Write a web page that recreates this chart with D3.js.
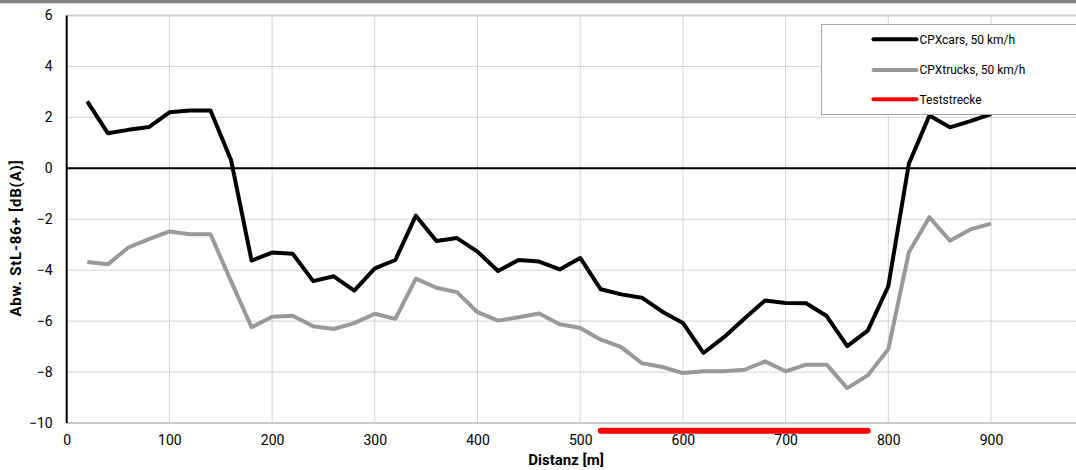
<!DOCTYPE html>
<html>
<head>
<meta charset="utf-8">
<script src="https://cdn.jsdelivr.net/npm/d3@7"></script>
<style>
  html, body { margin: 0; padding: 0; background: #fff; }
  svg { display: block; font-family: Roboto, "Liberation Sans", Arial, sans-serif; }
</style>
</head>
<body>
<svg id="chart" width="1076" height="470"></svg>
<script>
// Distance along the measured road section [m]
const distances = [20, 40, 60, 80, 100, 120, 140, 160, 180, 200, 220, 240, 260, 280, 300,
  320, 340, 360, 380, 400, 420, 440, 460, 480, 500, 520, 540, 560, 580, 600,
  620, 640, 660, 680, 700, 720, 740, 760, 780, 800, 820, 840, 860, 880, 900];

// Deviation from StL-86+ [dB(A)], passenger cars at 50 km/h
const cpxCars = [2.63, 1.38, 1.51, 1.62, 2.20, 2.27, 2.27, 0.33, -3.62, -3.31, -3.35, -4.43, -4.24, -4.80, -3.93,
  -3.60, -1.86, -2.85, -2.74, -3.27, -4.03, -3.60, -3.66, -3.97, -3.52, -4.75, -4.95, -5.08, -5.63, -6.07,
  -7.25, -6.63, -5.90, -5.19, -5.29, -5.30, -5.80, -6.98, -6.37, -4.63, 0.18, 2.07, 1.61, 1.85, 2.13];

// Deviation from StL-86+ [dB(A)], trucks at 50 km/h
const cpxTrucks = [-3.68, -3.77, -3.11, -2.78, -2.48, -2.59, -2.59, -4.43, -6.24, -5.83, -5.79, -6.20, -6.31, -6.08, -5.71,
  -5.91, -4.33, -4.69, -4.86, -5.65, -5.98, -5.85, -5.70, -6.12, -6.27, -6.73, -7.02, -7.65, -7.80, -8.04,
  -7.97, -7.97, -7.91, -7.58, -7.97, -7.71, -7.71, -8.63, -8.13, -7.10, -3.30, -1.92, -2.84, -2.40, -2.17];

// Test section, drawn as a marker just below the x axis
const testSection = [520, 780];
const testSectionLevel = -10.3;

const xTicks = [0, 100, 200, 300, 400, 500, 600, 700, 800, 900];
const yTicks = [-10, -8, -6, -4, -2, 0, 2, 4, 6];

const seriesNames = ["CPXcars, 50 km/h", "CPXtrucks, 50 km/h", "Teststrecke"];
const seriesColors = ["#000000", "#999999", "#ff0000"];

const svg = d3.select("#chart");
const W = 1076, H = 470;

const x = d3.scaleLinear().domain([0, 1000]).range([66.7, 66.7 + 1027]);
const y = d3.scaleLinear().domain([-10, 6]).range([423, 15.5]);

// dark strip along the top edge
svg.append("rect").attr("x", 0).attr("y", 0).attr("width", W).attr("height", 3.3).attr("fill", "#808080");

// gridlines
const grid = svg.append("g");
grid.selectAll("line.h").data(yTicks.filter(d => d !== 6 && d !== -10 && d !== 0)).join("line")
  .attr("x1", x(0)).attr("x2", W)
  .attr("y1", d => y(d)).attr("y2", d => y(d))
  .attr("stroke", "#a8a8a8").attr("stroke-width", 1).attr("stroke-dasharray", "1,1");
grid.selectAll("line.v").data(xTicks.filter(d => d > 0)).join("line")
  .attr("x1", d => x(d)).attr("x2", d => x(d))
  .attr("y1", y(6)).attr("y2", y(-10))
  .attr("stroke", "#a8a8a8").attr("stroke-width", 1).attr("stroke-dasharray", "1,1");

// plot area border (top and bottom)
svg.append("line").attr("x1", x(0)).attr("x2", W).attr("y1", y(6)).attr("y2", y(6))
  .attr("stroke", "#d0d0d0").attr("stroke-width", 2);
svg.append("line").attr("x1", x(0)).attr("x2", W).attr("y1", y(-10)).attr("y2", y(-10))
  .attr("stroke", "#c8c8c8").attr("stroke-width", 2);

// zero line
svg.append("line").attr("x1", x(0)).attr("x2", W).attr("y1", y(0)).attr("y2", y(0))
  .attr("stroke", "#000").attr("stroke-width", 2);

// y axis line
svg.append("line").attr("x1", x(0)).attr("x2", x(0)).attr("y1", y(6)).attr("y2", y(-10))
  .attr("stroke", "#000").attr("stroke-width", 2);

// tick labels via axes
const yAxis = svg.append("g").attr("transform", `translate(${x(0) - 14},0)`)
  .call(d3.axisLeft(y).tickValues(yTicks).tickSize(0).tickPadding(0).tickFormat(d3.format("d")));
yAxis.select(".domain").remove();
yAxis.selectAll("text").attr("font-size", 14).attr("fill", "#000").attr("font-family", "Roboto, sans-serif");

const xAxis = svg.append("g").attr("transform", `translate(0,${y(-10)})`)
  .call(d3.axisBottom(x).tickValues(xTicks).tickSize(0).tickPadding(12).tickFormat(d3.format("d")));
xAxis.select(".domain").remove();
xAxis.selectAll("text").attr("font-size", 14).attr("fill", "#000").attr("font-family", "Roboto, sans-serif");

// series lines
const line = d3.line().x(d => x(d[0])).y(d => y(d[1]));
svg.append("path").datum(d3.zip(distances, cpxTrucks)).attr("d", line)
  .attr("fill", "none").attr("stroke", seriesColors[1]).attr("stroke-width", 4).attr("stroke-linejoin", "round");
svg.append("path").datum(d3.zip(distances, cpxCars)).attr("d", line)
  .attr("fill", "none").attr("stroke", seriesColors[0]).attr("stroke-width", 4).attr("stroke-linejoin", "round");

// test section marker
svg.append("line")
  .attr("x1", x(testSection[0])).attr("x2", x(testSection[1]))
  .attr("y1", y(testSectionLevel)).attr("y2", y(testSectionLevel))
  .attr("stroke", seriesColors[2]).attr("stroke-width", 6).attr("stroke-linecap", "round");

// axis titles
svg.append("text").attr("x", 566).attr("y", 465).attr("text-anchor", "middle")
  .attr("font-size", 15).attr("font-weight", "bold").text("Distanz [m]");
svg.append("text").attr("transform", "translate(21,238) rotate(-90)").attr("text-anchor", "middle")
  .attr("font-size", 15).attr("font-weight", "bold").attr("letter-spacing", 0.8).text("Abw. StL-86+ [dB(A)]");

// legend
const lg = svg.append("g");
lg.append("rect").attr("x", 821.5).attr("y", 24.5).attr("width", 300).attr("height", 90)
  .attr("fill", "#fff").attr("stroke", "#a6a6a6").attr("stroke-width", 1);
const rows = [39.3, 70, 99.3];
seriesNames.forEach((name, i) => {
  lg.append("line").attr("x1", 873.5).attr("x2", 916.5).attr("y1", rows[i]).attr("y2", rows[i])
    .attr("stroke", seriesColors[i]).attr("stroke-width", 4).attr("stroke-linecap", "round");
  lg.append("text").attr("x", 919.5).attr("y", rows[i] + 4.3).attr("font-size", 12).attr("fill", "#000").text(name);
});
</script>
</body>
</html>
